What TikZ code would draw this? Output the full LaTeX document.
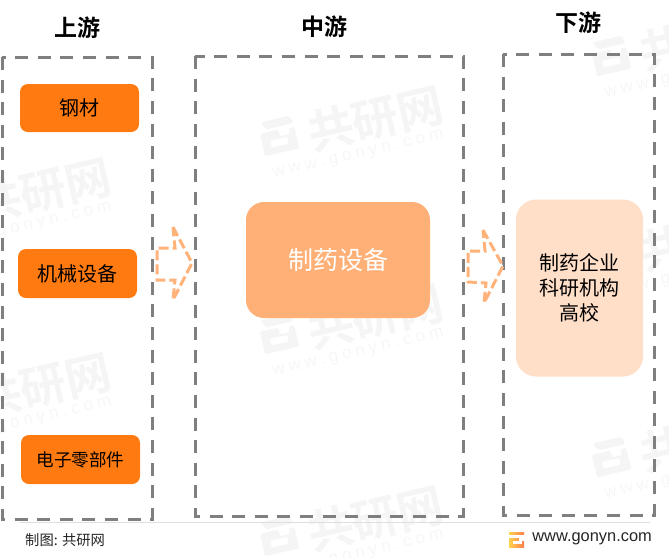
\documentclass[tikz,border=0pt]{standalone}
\usepackage{fontspec}
\setmainfont{Noto Sans CJK SC}
\newfontfamily\cjkbold{Noto Sans CJK SC Bold}
\newfontfamily\latinfont{Liberation Sans}
\newfontfamily\wmlatin[LetterSpace=25]{Liberation Sans}
\definecolor{orangeA}{HTML}{FF7A10}
\definecolor{orangeB}{HTML}{FFB077}
\definecolor{orangeC}{HTML}{FFDFC8}
\definecolor{dashgray}{HTML}{7F7F7F}
\definecolor{arrowc}{HTML}{FFB27A}
\definecolor{wmc}{HTML}{F5F5F5}
\definecolor{wmd}{HTML}{F7F7F7}
\tikzset{
  x=1pt,y=-1pt,
  heading/.style={font=\cjkbold\fontsize{23}{23}\selectfont,text=black,inner sep=0pt},
  stage/.style={draw=dashgray,line width=3pt,dash pattern=on 13pt off 9.6pt},
  srcbox/.style={fill=orangeA,rounded corners=8pt,font=\fontsize{20}{20}\selectfont,text=black,inner sep=0pt},
  flowarrow/.style={draw=arrowc,line width=3pt,dash pattern=on 10pt off 4pt,fill=white},
  wmtext/.style={inner sep=0pt,transform shape},
}
\newcommand{\wmark}[2]{%
  \begin{scope}[shift={(#1,#2)},rotate=13]
    \fill[wmc,rounded corners=2pt] (-88,-26) -- (-58,-26) -- (-56,-18) -- (-84,-18) -- cycle;
    \fill[wmc,rounded corners=2pt,even odd rule] (-91,-15) -- (-72,-15) -- (-72,-8) -- (-62,-8) -- (-62,-14) -- (-56,-14) -- (-56,8) -- (-91,8) -- cycle (-83,-6) rectangle (-65,1);
    \node[wmtext,text=wmc,font=\cjkbold\fontsize{46}{46}\selectfont] at (25,-4) {共研网};
    \node[wmtext,text=wmd,font=\wmlatin\fontsize{17}{17}\selectfont] at (0,28) {www.gonyn.com};
  \end{scope}}
\begin{document}
\begin{tikzpicture}
\useasboundingbox (0,0) rectangle (669,557);
\fill[white] (0,0) rectangle (669,557);
% watermarks
\begin{scope}
\clip (0,0) rectangle (669,557);
\wmark{352}{128}
\wmark{20}{200}
\wmark{684}{48}
\wmark{352}{326}
\wmark{684}{248}
\wmark{20}{395}
\wmark{352}{528}
\wmark{684}{449}
\end{scope}
% stages
\draw[stage] (2,57) rectangle (152,519);
\draw[stage] (195,56) rectangle (463,516);
\draw[stage] (503,54) rectangle (654,515);
% headings
\node[heading] (h1) at (77,28) {上游};
\node[heading] (h2) at (324,27) {中游};
\node[heading] (h3) at (578,23) {下游};
% boxes
\node[srcbox,minimum width=119pt,minimum height=48pt] (a) at (79.5,108) {钢材};
\node[srcbox,minimum width=119pt,minimum height=49pt] (b) at (77.5,273.5) {机械设备};
\node[srcbox,minimum width=119pt,minimum height=49pt,font=\fontsize{17.6}{17.6}\selectfont] (c) at (80.5,459.5) {电子零部件};
\node[fill=orangeB,rounded corners=18pt,minimum width=184pt,minimum height=116pt,text=white,font=\fontsize{25}{25}\selectfont,inner sep=0pt] (d) at (338,260) {制药设备};
\node[fill=orangeC,rounded corners=20pt,minimum width=127pt,minimum height=177pt,align=center,text=black,font=\fontsize{20}{25}\selectfont,inner sep=0pt] (e) at (579.5,288) {制药企业\\科研机构\\高校};
% flow arrows
\draw[flowarrow] (173,227) -- (192,263) -- (173,300) -- (175,280) -- (157,280) -- (157,248) -- (175,248) -- cycle;
\draw[flowarrow] (483,230) -- (503,266) -- (484,303) -- (486,283) -- (468,282) -- (468,251) -- (485,251) -- cycle;
% footer
\coordinate (r1) at (20,522);
\coordinate (r2) at (650,522);
\draw[draw=gray!25,line width=0.8pt] (r1) -- (r2);
\node[anchor=west,inner sep=0pt,font=\fontsize{14.3}{14.3}\selectfont,text=black!85] (src) at (25,540) {制图: 共研网};
% logo
\shade[left color=orange!50!yellow!70,right color=red!45!orange!70] (509,532) rectangle (524,547);
\fill[white] (508,535) rectangle (525,538);
\fill[white] (513,540.5) rectangle (522,543.5);
\fill[white] (519,538) rectangle (525,541);
\node[anchor=east,inner sep=0pt,font=\latinfont\fontsize{16.4}{16.4}\selectfont,text=black!85] (url) at (652,539) {www.gonyn.com};
\end{tikzpicture}
\end{document}
